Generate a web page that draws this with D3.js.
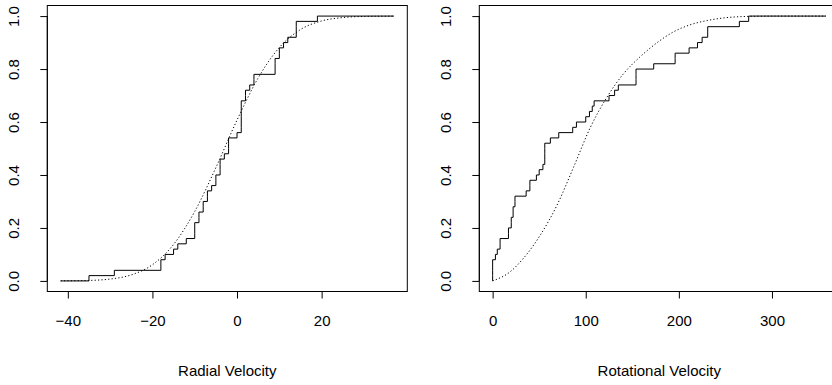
<!DOCTYPE html>
<html>
<head>
<meta charset="utf-8">
<script src="https://cdn.jsdelivr.net/npm/d3@7"></script>
<style>
  body { margin: 0; background: #fff; }
  svg text { font-family: "Liberation Sans", Arial, sans-serif; font-size: 15px; fill: #000; }
</style>
</head>
<body>
<div class="chart"></div>
<script>
const radialObs = [-35, -29, -18, -18, -17, -15, -14, -12, -10, -10, -10, -9, -9,
  -8, -8, -7, -7, -6, -5, -5, -4, -4, -4, -3, -2, -2, -2, 0,
  1, 1, 1, 1, 1, 1, 2, 2, 3, 4, 4, 9, 9, 9, 10, 10, 11, 12, 14, 14, 14, 19];
const radialRange = [-41.7, 37.1];
// fitted normal cdf, sampled
const radialFitX = [-41.7, -35, -30, -25, -20, -15, -10, -5, 0, 5, 10, 15, 20, 25, 30, 37.1];
const radialFitY = [0.0002, 0.0018, 0.007, 0.0228, 0.0611, 0.1377, 0.2623, 0.4278, 0.6075,
  0.7664, 0.8814, 0.9491, 0.9817, 0.9945, 0.9987, 0.9999];
const radialTicks = [-40, -20, 0, 20];

// observed rotational velocities (sorted)
const rotObs = [0, 0, 0, 0, 3, 5, 8, 8, 17, 17, 20, 20, 22, 22, 24, 24, 36, 40, 40, 47,
  50, 54, 56, 56, 56, 56, 62, 71, 86, 90, 100, 104, 107, 109, 125, 131, 135,
  154, 154, 154, 173, 196, 196, 211, 220, 225, 231, 231, 265, 275];
const rotRange = [0, 358];
const rotFitX = [0, 19, 33, 51, 69, 87, 105, 123, 140, 158, 176, 194, 212, 230, 248, 276, 300, 358];
const rotFitY = [0, 0.035, 0.085, 0.172, 0.285, 0.43, 0.58, 0.695, 0.78, 0.845, 0.898,
  0.94, 0.967, 0.983, 0.993, 0.999, 1, 1];
const rotTicks = [0, 100, 200, 300];

const yTicks = [0, 0.2, 0.4, 0.6, 0.8, 1];

const panels = [
  {left: 47.3, obs: radialObs, range: radialRange, fitX: radialFitX, fitY: radialFitY,
   ticks: radialTicks, title: 'Radial Velocity'},
  {left: 479.3, obs: rotObs, range: rotRange, fitX: rotFitX, fitY: rotFitY,
   ticks: rotTicks, title: 'Rotational Velocity'}
];

const W = 832, H = 385;
const boxW = 360, boxTop = 5.5, boxH = 286;

const svg = d3.select('.chart').append('svg')
    .attr('width', W)
    .attr('height', H);

// R-style 4% padding on both axes
const pad = function (r) {
  const d = (r[1] - r[0]) * 0.04;
  return [r[0] - d, r[1] + d];
};

const drawPanel = function (p) {
  const g = svg.append('g')
      .attr('transform', `translate(${p.left},${boxTop})`);

  const x = d3.scaleLinear().domain(pad(p.range)).range([0, boxW]);
  const y = d3.scaleLinear().domain(pad([0, 1])).range([boxH, 0]);

  // empirical cdf as step points
  const n = p.obs.length;
  const steps = [[p.range[0], 0]];
  p.obs.forEach((v, i) => steps.push([v, (i + 1) / n]));
  steps.push([p.range[1], 1]);

  g.append('path')
      .datum(steps)
      .attr('fill', 'none')
      .attr('stroke', '#000')
      .attr('stroke-width', 1)
      .attr('d', d3.line().x(d => x(d[0])).y(d => y(d[1])).curve(d3.curveStepAfter));

  // fitted cdf, dotted
  const fit = p.fitX.map((v, i) => [v, p.fitY[i]]);
  g.append('path')
      .datum(fit)
      .attr('fill', 'none')
      .attr('stroke', '#000')
      .attr('stroke-width', 1)
      .attr('stroke-dasharray', '1.2,2.2')
      .attr('d', d3.line().x(d => x(d[0])).y(d => y(d[1])).curve(d3.curveMonotoneX));

  // x axis
  const xa = g.append('g')
      .attr('transform', `translate(0,${boxH})`)
      .call(d3.axisBottom(x).tickValues(p.ticks).tickFormat(d3.format('d'))
        .tickSize(7).tickPadding(17).tickSizeOuter(0));
  xa.select('.domain').remove();
  xa.append('line')
      .attr('x1', x(p.ticks[0])).attr('x2', x(p.ticks[p.ticks.length - 1]))
      .attr('stroke', '#000');
  xa.selectAll('text').attr('fill', '#000').style('font-size', '15px');

  // y axis with rotated labels
  const ya = g.append('g')
      .call(d3.axisLeft(y).tickValues(yTicks).tickFormat(d3.format('.1f'))
        .tickSize(7).tickSizeOuter(0));
  ya.select('.domain').remove();
  ya.append('line')
      .attr('y1', y(0)).attr('y2', y(1))
      .attr('stroke', '#000');
  ya.selectAll('text')
      .attr('x', null).attr('dy', null)
      .attr('text-anchor', 'middle')
      .attr('fill', '#000')
      .style('font-size', '15px')
      .attr('transform', 'translate(-28,0) rotate(-90)');

  // box
  g.append('rect')
      .attr('width', boxW).attr('height', boxH)
      .attr('fill', 'none')
      .attr('stroke', '#000');

  svg.append('text')
      .attr('x', p.left + boxW / 2)
      .attr('y', 376)
      .attr('text-anchor', 'middle')
      .text(p.title);
};

panels.forEach(drawPanel);
</script>
</body>
</html>
